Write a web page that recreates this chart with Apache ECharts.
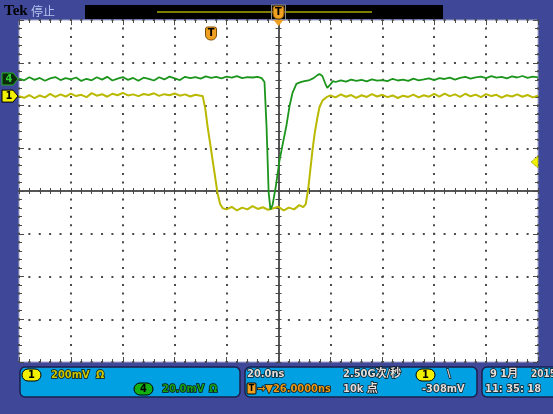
<!DOCTYPE html>
<html>
<head>
<meta charset="utf-8">
<script src="https://cdn.jsdelivr.net/npm/echarts@6/dist/echarts.min.js"></script>
<style>
  html, body { margin: 0; padding: 0; background: #3f4898; }
  #scope { width: 553px; height: 414px; }
</style>
</head>
<body>
<div id="scope"></div>
<script>
// Horizontal: 20 ns/div, 10 divisions centred on the trigger
const TIME_MIN_NS = -100;
const TIME_MAX_NS = 100;
const TIME_DIV_NS = 20;
// Vertical: 8 divisions
const DIV_MIN = -4;
const DIV_MAX = 4;

// Channel 1 (yellow): 200 mV/div, ground marker 2.22 div above centre
const ch1ScaleMv = 200;
const ch1OffsetDiv = 2.22;
const ch1TimeNs = [
  -100, -98, -96, -94, -92, -90, -88, -86, -84, -82, -80, -78, -76, -74, -72, -70, -68, -66, -64, -62,
  -60, -58, -56, -54, -52, -50, -48, -46, -44, -42, -40, -38, -36, -34, -32, -30,
  -29.2, -28.2, -27.3, -26.3, -25.4, -24.4, -23.5, -22.5, -21.5,
  -20, -18, -16, -14, -12, -10, -8, -6, -4, -2, 0, 2, 4, 6, 8, 9.5,
  10.5, 11.5, 12.3, 13.1, 14, 15, 15.8, 17, 18.5, 20,
  22, 24, 26, 28, 30, 32, 34, 36, 38, 40, 42, 44, 46, 48, 50, 52, 54, 56, 58, 60,
  62, 64, 66, 68, 70, 72, 74, 76, 78, 80, 82, 84, 86, 88, 90, 92, 94, 96, 98, 100
];
const ch1Mv = [
  0, -8, 5, -10, 3, -6, 10, -4, 8, -2, 12, 0, 6, -5, 14, 2, 9, -3, 11, 4,
  15, 3, 8, 0, 10, 5, 13, 1, 9, 4, 12, 2, 8, -2, 6, 2,
  0, -60, -145, -225, -300, -380, -454, -505, -525,
  -530, -518, -535, -522, -530, -515, -528, -520, -532, -525, -518, -535, -522, -530, -510, -520,
  -505, -430, -340, -253, -170, -100, -51, -20, -5, 3,
  -6, 8, -3, 5, -8, 4, -4, 9, -2, 6, -5, 3, -9, 2, -4, 7, -6, 4, -3, 10,
  -2, 12, 0, 8, -4, 11, -1, 7, -5, 9, 0, 6, -7, 4, -2, 8, -3, 5, -6, 2
];

// Channel 4 (green): 20 mV/div, ground marker 2.62 div above centre
const ch4ScaleMv = 20;
const ch4OffsetDiv = 2.62;
const ch4TimeNs = [
  -100, -98, -96, -94, -92, -90, -88, -86, -84, -82, -80, -78, -76, -74, -72, -70, -68, -66, -64, -62,
  -60, -58, -56, -54, -52, -50, -48, -46, -44, -42, -40, -38, -36, -34, -32, -30, -28, -26, -24, -22,
  -20, -18, -16, -14, -12, -10, -8, -6.5,
  -5.4, -4.6, -3.8, -3.1, -2.3, -1, 0.4, 1.7, 3.1, 4.2, 5.4, 6.9, 8.5, 10, 12, 13.5, 15, 15.8, 16.9, 18, 18.8, 20, 21,
  22, 24, 26, 28, 30, 32, 34, 36, 38, 40, 42, 44, 46, 48, 50, 52, 54, 56, 58, 60,
  62, 64, 66, 68, 70, 72, 74, 76, 78, 80, 82, 84, 86, 88, 90, 92, 94, 96, 98, 100
];
const ch4Mv = [
  0.2, -0.6, 0.8, -0.4, 0.5, -0.8, 0.3, 0.9, -0.5, 0.4, -0.2, 0.7, -0.9, 0.1, -0.6, 0.8, -0.3, 1.0, -0.7, 0.2,
  0.9, -0.4, 0.5, -0.8, 0.6, 0.1, -0.7, 0.8, -0.2, 1.1, 0.3, -0.5, 1.0, 0.4, 0.9, 0.2, 1.2, 0.5, 1.0, 0.3,
  1.1, 0.6, 1.3, 0.4, 0.9, 0.7, 1.0, 0.4,
  -1.4, -22.5, -53, -61, -59, -50, -38, -30, -21.5, -13, -6.5, -2.3, -1.5, -1.0, -0.5, 0.4, 1.8, 2.3, 1.4, -2.0, -4.2, -2.5, -1.0,
  -1.4, -0.6, -1.2, -0.3, -0.9, -0.4, -1.1, -0.2, -0.8, -0.5, -1.0, 0.1, -0.7, -0.3, -0.9, 0.2, -0.6, -0.2, 0.3, -0.5,
  0.4, 0.0, 0.6, -0.3, 0.5, 1.0, 0.2, 0.8, 1.1, 0.4, 1.3, 0.6, 1.0, 0.3, 1.2, 0.7, 1.4, 0.5, 1.1, 0.8
];

// Trigger settings shown in the readout
const triggerDelayNs = -26;
const triggerLevelMv = -308;

const FONT = "'DejaVu Sans Condensed', 'Liberation Sans Narrow', 'Noto Sans CJK SC', sans-serif";
const GRID_INK = '#4a4a4a';

const ch1Points = ch1TimeNs.map((t, i) => [t, ch1OffsetDiv + ch1Mv[i] / ch1ScaleMv]);
const ch4Points = ch4TimeNs.map((t, i) => [t, ch4OffsetDiv + ch4Mv[i] / ch4ScaleMv]);

function scaleAxis(kind, extra) {
  const base = kind === 'x'
    ? { min: TIME_MIN_NS, max: TIME_MAX_NS, interval: TIME_DIV_NS }
    : { min: DIV_MIN, max: DIV_MAX, interval: 1 };
  return Object.assign({
    type: 'value',
    axisLabel: { show: false },
    splitLine: { show: false },
    axisLine: { show: false, onZero: false },
    axisTick: { show: true, inside: true, length: 5, lineStyle: { color: GRID_INK, width: 1 } },
    minorTick: { show: true, splitNumber: 5, length: 3, lineStyle: { color: GRID_INK, width: 1 } }
  }, base, extra);
}

const centreLine = { show: true, onZero: true, onZeroAxisIndex: 0, lineStyle: { color: '#4c4c4c', width: 1.5 } };

const chart = echarts.init(document.getElementById('scope'), null, { renderer: 'canvas' });

chart.setOption({
  animation: false,
  backgroundColor: '#3f4898',
  grid: {
    left: 19, top: 20, width: 519, height: 342,
    show: true, backgroundColor: '#ffffff', borderColor: '#a3a8cc', borderWidth: 1
  },
  xAxis: [
    scaleAxis('x', {
      position: 'bottom',
      splitLine: { show: true, lineStyle: { color: GRID_INK, width: 2, type: [2, 6.55], dashOffset: 1 } }
    }),
    scaleAxis('x', { position: 'top' }),
    scaleAxis('x', { position: 'bottom', axisLine: centreLine,
      axisTick: { show: true, inside: false, length: 3, lineStyle: { color: GRID_INK } } }),
    scaleAxis('x', { position: 'bottom', axisLine: centreLine,
      axisTick: { show: true, inside: true, length: 3, lineStyle: { color: GRID_INK } } })
  ],
  yAxis: [
    scaleAxis('y', {
      position: 'left',
      splitLine: { show: true, lineStyle: { color: GRID_INK, width: 2, type: [2, 8.38], dashOffset: 1 } }
    }),
    scaleAxis('y', { position: 'right' }),
    scaleAxis('y', { position: 'left', axisLine: centreLine,
      axisTick: { show: true, inside: false, length: 3, lineStyle: { color: GRID_INK } } }),
    scaleAxis('y', { position: 'left', axisLine: centreLine,
      axisTick: { show: true, inside: true, length: 3, lineStyle: { color: GRID_INK } } })
  ],
  series: [
    {
      name: 'CH1', type: 'line', xAxisIndex: 0, yAxisIndex: 0,
      data: ch1Points, showSymbol: false, silent: true,
      lineStyle: { color: '#b9b900', width: 2 }, z: 3
    },
    {
      name: 'CH4', type: 'line', xAxisIndex: 0, yAxisIndex: 0,
      data: ch4Points, showSymbol: false, silent: true,
      lineStyle: { color: '#1c951c', width: 1.8 }, z: 4
    }
  ]
});

const toPx = (t, d) => chart.convertToPixel({ xAxisIndex: 0, yAxisIndex: 0 }, [t, d]);
const centre = toPx(0, 0);
const ch1Ground = toPx(TIME_MIN_NS, ch1OffsetDiv);
const ch4Ground = toPx(TIME_MIN_NS, ch4OffsetDiv);
const trigLevel = toPx(TIME_MAX_NS, ch1OffsetDiv + triggerLevelMv / ch1ScaleMv);
const trigPoint = toPx(triggerDelayNs, DIV_MAX);

function label(text, x, y, fill, opts) {
  return {
    type: 'text', z: 20,
    style: Object.assign({
      text, x, y, fill, font: 'bold 11px ' + FONT,
      align: 'left', verticalAlign: 'middle',
      stroke: '#101010', lineWidth: 1.4
    }, opts || {})
  };
}

function channelFlag(y, num, fill, stroke, ink) {
  return [
    { type: 'polygon', z: 20, shape: { points: [[2, y - 6], [13, y - 6], [18, y], [13, y + 6], [2, y + 6]] },
      style: { fill, stroke, lineWidth: 1 } },
    { type: 'text', z: 21, style: { text: num, x: 9, y, fill: ink, font: 'bold 11px ' + FONT, align: 'center', verticalAlign: 'middle' } }
  ];
}

function pill(x, y, num, fill) {
  return [
    { type: 'rect', z: 20, shape: { x, y, width: 19, height: 12, r: 6 }, style: { fill, stroke: '#000', lineWidth: 1 } },
    { type: 'text', z: 21, style: { text: num, x: x + 9.5, y: y + 6.5, fill: '#000', font: 'bold 11px ' + FONT, align: 'center', verticalAlign: 'middle' } }
  ];
}

function triggerBadge(cx, top) {
  return [
    { type: 'rect', z: 20, shape: { x: cx - 5.5, y: top, width: 11, height: 13, r: [2, 2, 5, 5] },
      style: { fill: '#f0a020', stroke: '#7a4a00', lineWidth: 1 } },
    { type: 'text', z: 21, style: { text: 'T', x: cx, y: top + 6.5, fill: '#000', font: 'bold 11px ' + FONT, align: 'center', verticalAlign: 'middle' } }
  ];
}

function panel(x, w) {
  return { type: 'rect', z: 15, shape: { x, y: 367, width: w, height: 30, r: 5 },
    style: { fill: '#00a0e3', stroke: '#1b1f4a', lineWidth: 1.5 } };
}

const elements = [
  // header
  { type: 'text', z: 20, style: { text: 'Tek', x: 4, y: 11, fill: '#000', font: 'bold 15px "Liberation Serif", serif', verticalAlign: 'middle' } },
  { type: 'text', z: 20, style: { text: '停止', x: 31, y: 11, fill: '#b4c4f0', font: '12px "Noto Sans CJK SC", sans-serif', verticalAlign: 'middle' } },
  { type: 'rect', z: 18, shape: { x: 85, y: 5, width: 358, height: 14 }, style: { fill: '#000' } },
  { type: 'line', z: 19, shape: { x1: 157, y1: 12, x2: 372, y2: 12 }, style: { stroke: '#a8a800', lineWidth: 1.5 } },
  { type: 'rect', z: 19, shape: { x: centre[0] - 7, y: 5, width: 14, height: 15 }, style: { fill: 'none', stroke: '#8a8a8a', lineWidth: 1 } },
  ...triggerBadge(centre[0], 6),
  { type: 'polygon', z: 20, shape: { points: [[centre[0] - 5, 20], [centre[0] + 5, 20], [centre[0], 26]] }, style: { fill: '#f0a020' } },

  // trigger position badge inside the graticule
  ...triggerBadge(trigPoint[0], trigPoint[1] + 7),

  // channel ground flags
  ...channelFlag(ch4Ground[1], '4', '#0c2a0c', '#22b022', '#30d030'),
  ...channelFlag(ch1Ground[1], '1', '#f0f000', '#000', '#000'),

  // trigger level arrow
  { type: 'polygon', z: 20, shape: { points: [[trigLevel[0] - 7, trigLevel[1]], [trigLevel[0], trigLevel[1] - 6], [trigLevel[0], trigLevel[1] + 6]] },
    style: { fill: '#f0f000', stroke: '#8a8a00', lineWidth: 0.5 } },

  // readout panels
  panel(20, 220),
  panel(245, 232),
  panel(482, 90),

  ...pill(22, 369, '1', '#f0f000'),
  label('200mV', 51, 375, '#c8c800'),
  label('Ω', 96, 375, '#c8c800'),
  ...pill(134, 383, '4', '#12b012'),
  label('20.0mV', 162, 389, '#16a016'),
  label('Ω', 209, 389, '#16a016'),

  label('20.0ns', 247, 374, '#e0e0e0'),
  { type: 'rect', z: 20, shape: { x: 247, y: 383, width: 9, height: 11, r: 1 }, style: { fill: '#f0a020', stroke: '#000', lineWidth: 1 } },
  { type: 'text', z: 21, style: { text: 'T', x: 251.5, y: 389, fill: '#000', font: 'bold 9px ' + FONT, align: 'center', verticalAlign: 'middle' } },
  label('→▼26.0000ns', 257, 389, '#e89a18'),
  label('2.50G次/秒', 343, 374, '#e0e0e0'),
  label('10k 点', 343, 389, '#e0e0e0'),
  ...pill(416, 369, '1', '#f0f000'),
  label('\\', 447, 374, '#e0e0e0'),
  label('-308mV', 422, 389, '#e0e0e0'),

  label('9 1月', 490, 374, '#e0e0e0'),
  label('2015', 531, 374, '#e0e0e0', { font: 'bold 10px ' + FONT }),
  label('11: 35: 18', 485, 389, '#e0e0e0')
];

chart.setOption({ graphic: { elements } });
</script>
</body>
</html>
